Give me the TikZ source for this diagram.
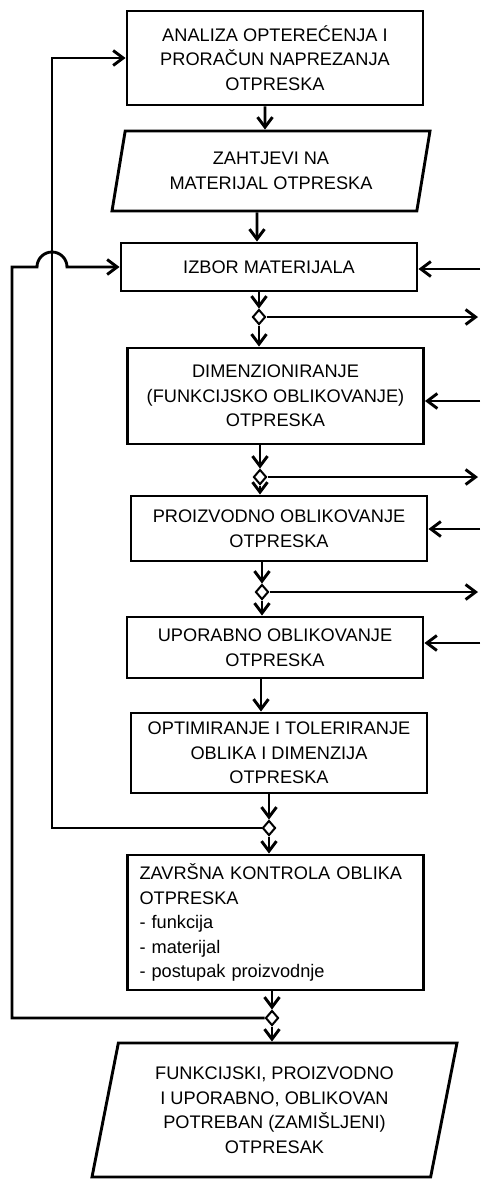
\documentclass[tikz,border=0pt]{standalone}
\usepackage{fontspec}
\setmainfont{Liberation Sans}
\usepackage{tikz}
\usetikzlibrary{positioning,shapes,arrows.meta}

\tikzstyle{blok}=[%
      rectangle, draw=black, line width=2.9pt, fill=white,
      minimum width=296pt, inner sep=6pt, align=center,
      font=\fontsize{18.2}{24.5}\selectfont
]
\tikzstyle{io}=[%
      trapezium, trapezium left angle=75, trapezium right angle=105, trapezium stretches body,
      draw=black, line width=2.9pt, fill=white, inner sep=6pt, align=center,
      font=\fontsize{18.2}{24.5}\selectfont
]
\tikzstyle{grana}=[%
      diamond, draw=black, line width=2pt, fill=white,
      minimum width=13pt, minimum height=15pt, inner sep=0pt
]

\begin{document}
\begin{tikzpicture}[x=1pt, y=-1pt,
    line width=2.9pt,
    -{Straight Barb[length=10pt,width=15pt]}
  ]
    \useasboundingbox (0,0) rectangle (480,1179);

    \node[blok, minimum height=94pt]  (anal)   at (275,58)    {ANALIZA OPTEREĆENJA I\\PRORAČUN NAPREZANJA\\OTPRESKA};
    \node[io, minimum height=80pt, minimum width=318pt] (zaht) at (271,171) {ZAHTJEVI NA\\MATERIJAL OTPRESKA};
    \node[blok, minimum height=48pt]  (izbor)  at (269,267)   {IZBOR MATERIJALA};
    \node[grana]                      (d1)     at (259,317)   {};
    \node[blok, minimum height=96pt]  (dimenz) at (275.5,396) {DIMENZIONIRANJE\\(FUNKCIJSKO OBLIKOVANJE)\\OTPRESKA};
    \node[grana]                      (d2)     at (260,477)   {};
    \node[blok, minimum height=65pt]  (proiz)  at (279,528.5) {PROIZVODNO OBLIKOVANJE\\OTPRESKA};
    \node[grana]                      (d3)     at (262,592)   {};
    \node[blok, minimum height=61pt]  (upor)   at (275,647.5) {UPORABNO OBLIKOVANJE\\OTPRESKA};
    \node[blok, minimum height=80pt]  (optim)  at (279,753)   {OPTIMIRANJE I TOLERIRANJE\\OBLIKA I DIMENZIJA\\OTPRESKA};
    \node[grana]                      (d4)     at (269,828)   {};
    \node[blok, minimum height=135pt, text width=272pt, inner xsep=12pt, align=left]
                                      (zavr)   at (275.5,922.5) {ZAVRŠNA KONTROLA OBLIKA\\OTPRESKA\\- funkcija\\- materijal\\- postupak proizvodnje};
    \node[grana]                      (d5)     at (272,1018)  {};
    \node[io, minimum height=134pt, minimum width=365pt] (kraj) at (274.5,1110) {FUNKCIJSKI, PROIZVODNO\\I UPORABNO, OBLIKOVAN\\POTREBAN (ZAMIŠLJENI)\\OTPRESAK};

    % rubni ulazi i izlazi desno
    \coordinate (r1) at (480,269);
    \coordinate (o1) at (478,317);
    \coordinate (r2) at (480,401);
    \coordinate (o2) at (478,477);
    \coordinate (r3) at (480,529);
    \coordinate (o3) at (478,592);
    \coordinate (r4) at (480,643);
    % povratne linije lijevo
    \coordinate (l1) at (52,0);
    \coordinate (l2) at (12,0);
    \coordinate (hop) at (37,0);

    \path ([xshift=-10pt]anal.south) edge ([xshift=-6pt]zaht.north)
          ([xshift=-14pt]zaht.south) edge ([xshift=-12pt]izbor.north)
          (izbor.south -| d1) edge (d1.north)
          (d1.south) edge (d1 |- dimenz.north)
          (dimenz.south -| d2) edge (d2.north)
          (d2.south) edge (d2 |- proiz.north)
          (proiz.south -| d3) edge (d3.north)
          (d3.south) edge (d3 |- upor.north)
          ([xshift=-14pt]upor.south) edge ([xshift=-18pt]optim.north)
          (optim.south -| d4) edge (d4.north)
          (d4.south) edge (d4 |- zavr.north)
          (zavr.south -| d5) edge (d5.north)
          (d5.south) edge (d5 |- kraj.north)
          (r1) edge (izbor.east |- r1)
          (d1.east) edge (o1)
          (r2) edge (dimenz.east |- r2)
          (d2.east) edge (o2)
          (r3) edge (proiz.east |- r3)
          (d3.east) edge (o3)
          (r4) edge (upor.east |- r4)
    ;

    \draw (d4.west) -- (d4.west -| l1) |- (anal.west);
    \draw (d5.west) -- (d5.west -| l2) -- (l2 |- izbor.west) -- (hop |- izbor.west)
          arc[start angle=180, end angle=0, radius=15pt] -- (izbor.west);

  \end{tikzpicture}
\end{document}
